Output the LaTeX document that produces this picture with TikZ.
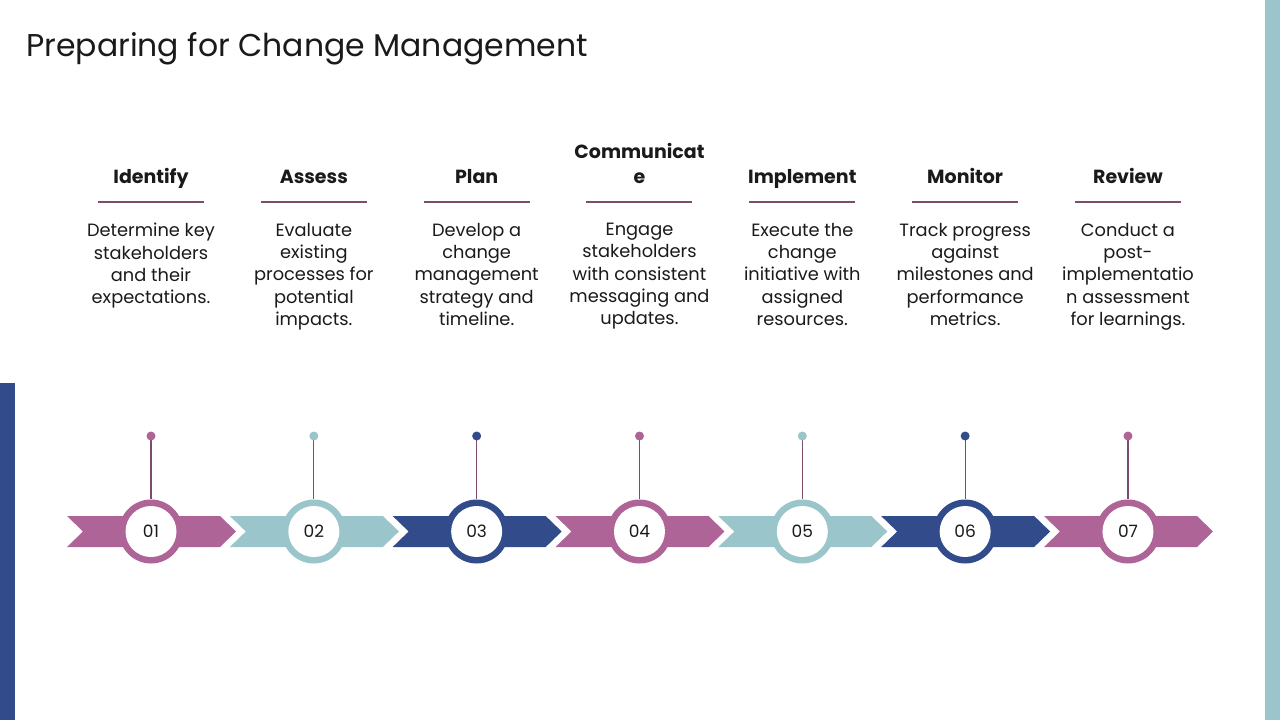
\documentclass[tikz,border=0pt]{standalone}
\usepackage{fontspec}
\setmainfont{Poppins}
\definecolor{cpink}{HTML}{AE6496}
\definecolor{cteal}{HTML}{9AC6CB}
\definecolor{cnavy}{HTML}{324C8B}
\definecolor{cline}{HTML}{7B4C6C}
\definecolor{ctext}{HTML}{1A1A1A}
\tikzset{
  headtxt/.style={font=\fontsize{19}{24.5}\selectfont\bfseries, text=ctext, align=center, inner sep=0pt, anchor=base},
  bodytxt/.style={font=\fontsize{17.8}{22.3}\selectfont, text=ctext, align=center, inner sep=0pt, anchor=north},
  numtxt/.style={font=\fontsize{17}{20}\selectfont, text=ctext, inner sep=0pt},
  rule/.style={draw=cline, line width=1.2pt},
  stem/.style={draw=cline, line width=1.2pt},
}
\begin{document}
\begin{tikzpicture}[x=1pt,y=-1pt]
\useasboundingbox (0,0) rectangle (1280,720);
\fill[white] (0,0) rectangle (1280,720);
% side bars
\fill[cnavy] (0,383) rectangle (15,720);
\fill[cteal] (1265,0) rectangle (1280,720);
% title
\node[font=\fontsize{31.5}{38}\selectfont, text=ctext, anchor=base west, inner sep=0pt] (title) at (26,56) {Preparing for Change Management};
% steps
\foreach \i/\col/\num/\head/\body in {
 1/cpink/01/Identify/{Determine key\\stakeholders\\and their\\expectations.},
 2/cteal/02/Assess/{Evaluate\\existing\\processes for\\potential\\impacts.},
 3/cnavy/03/Plan/{Develop a\\change\\management\\strategy and\\timeline.},
 4/cpink/04/{Communicat\\e}/{Engage\\stakeholders\\with consistent\\messaging and\\updates.},
 5/cteal/05/Implement/{Execute the\\change\\initiative with\\assigned\\resources.},
 6/cnavy/06/Monitor/{Track progress\\against\\milestones and\\performance\\metrics.},
 7/cpink/07/Review/{Conduct a\\post-\\implementatio\\n assessment\\for learnings.}}
{
  \pgfmathsetmacro{\cx}{151+162.83*(\i-1)}
  % chevron
  \fill[\col] (\cx-84,516) -- (\cx+69,516) -- (\cx+85,531.5) -- (\cx+69,547) -- (\cx-84,547) -- (\cx-68,531.5) -- cycle;
  % stem and dot
  \coordinate (top\i) at (\cx,436);
  \node[circle, fill=\col, minimum size=64pt, inner sep=0pt] (ring\i) at (\cx,531.5) {};
  \node[circle, fill=white, minimum size=51pt, inner sep=0pt] (disc\i) at (\cx,531.5) {};
  \node[numtxt] (num\i) at (\cx,531.5) {\num};
  \draw[stem] (top\i) -- (ring\i.north);
  \fill[\col] (top\i) circle (4.5pt);
  % heading
  \node[headtxt] (head\i) at (\cx,183) {\head};
  \draw[rule] (\cx-53,202) -- (\cx+53,202);
  \node[bodytxt] (body\i) at (\cx,223) {\body};
}
\end{tikzpicture}
\end{document}
